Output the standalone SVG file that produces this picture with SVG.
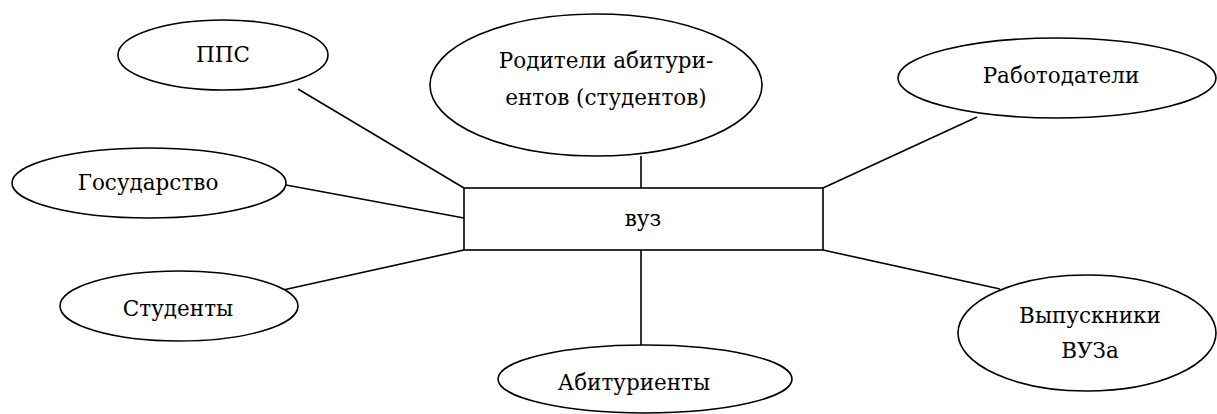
<svg xmlns="http://www.w3.org/2000/svg" width="1217" height="414" viewBox="0 0 1217 414">
  <style>
    .shape { fill: #ffffff; stroke: #000000; stroke-width: 1.6; }
    .link { stroke: #000000; stroke-width: 1.6; fill: none; }
    .label { font-family: 'DejaVu Serif', 'Liberation Serif', serif; font-size: 21.5px; fill: #000000; text-anchor: middle; }
  </style>
  <rect width="1217" height="414" fill="#ffffff"/>

  <!-- connectors between the university and its stakeholders -->
  <g id="connectors">
    <line class="link" x1="298" y1="89" x2="464" y2="188"/>
    <line class="link" x1="286" y1="185" x2="464" y2="218"/>
    <line class="link" x1="283" y1="290" x2="464" y2="250"/>
    <line class="link" x1="641" y1="156" x2="641" y2="188"/>
    <line class="link" x1="641" y1="250" x2="641" y2="345"/>
    <line class="link" x1="977" y1="117" x2="823" y2="188"/>
    <line class="link" x1="1000" y1="289" x2="823" y2="250"/>
  </g>

  <g id="node-vuz">
    <rect class="shape" x="464" y="188" width="359" height="62"/>
    <text class="label" x="643" y="226">вуз</text>
  </g>

  <g id="node-pps">
    <ellipse class="shape" cx="223" cy="55" rx="105" ry="35"/>
    <text class="label" x="223" y="62">ППС</text>
  </g>

  <g id="node-parents">
    <ellipse class="shape" cx="596" cy="85" rx="166" ry="71"/>
    <text class="label" x="606" y="68">Родители абитури-</text>
    <text class="label" x="606" y="105">ентов (студентов)</text>
  </g>

  <g id="node-employers">
    <ellipse class="shape" cx="1057" cy="78" rx="159" ry="40"/>
    <text class="label" x="1061" y="83">Работодатели</text>
  </g>

  <g id="node-state">
    <ellipse class="shape" cx="149" cy="183" rx="137" ry="35"/>
    <text class="label" x="148" y="190">Государство</text>
  </g>

  <g id="node-students">
    <ellipse class="shape" cx="179" cy="306" rx="119" ry="35"/>
    <text class="label" x="178" y="316">Студенты</text>
  </g>

  <g id="node-applicants">
    <ellipse class="shape" cx="645" cy="379" rx="147" ry="34"/>
    <text class="label" x="634" y="390">Абитуриенты</text>
  </g>

  <g id="node-graduates">
    <ellipse class="shape" cx="1087" cy="333" rx="129" ry="58"/>
    <text class="label" x="1090" y="323">Выпускники</text>
    <text class="label" x="1090" y="358">ВУЗа</text>
  </g>
</svg>
